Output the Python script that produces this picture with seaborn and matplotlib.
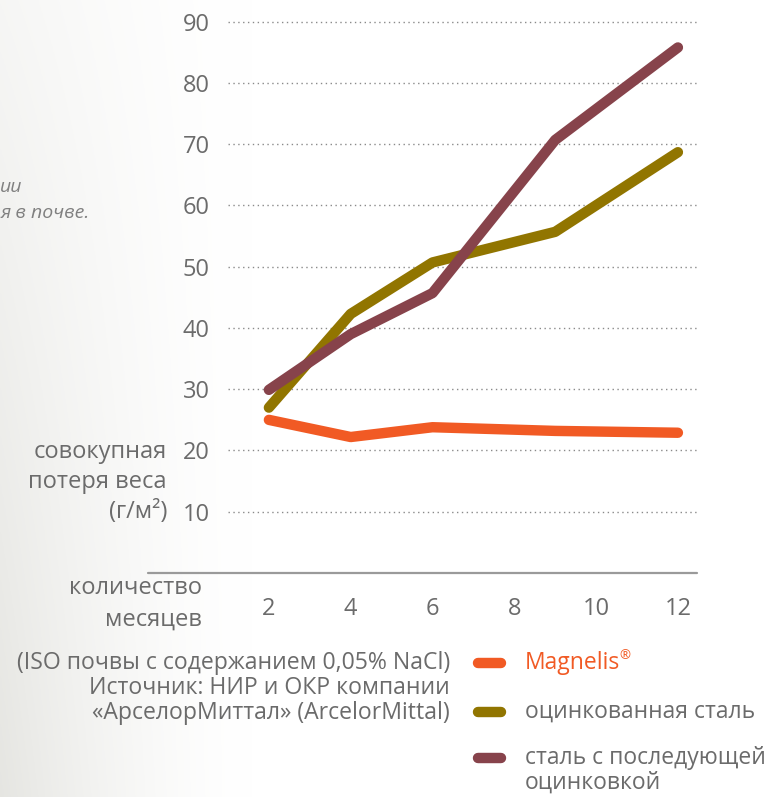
import numpy as np
import pandas as pd
import matplotlib
matplotlib.use("Agg")
import matplotlib.pyplot as plt
from matplotlib.lines import Line2D
import seaborn as sns

# ---- data ----
months = [2, 4, 6, 9, 12]
magnelis = [25.0, 22.2, 23.8, 23.2, 22.9]
galvanized = [27.0, 42.3, 50.7, 55.7, 68.7]
post_galvanized = [29.9, 39.0, 45.7, 70.7, 85.8]
series_names = ["Magnelis", "оцинкованная сталь", "сталь с последующей\nоцинковкой"]
series_colors = ["#F15A24", "#917500", "#87434B"]
x_ticks = [2, 4, 6, 8, 10, 12]
y_ticks = [10, 20, 30, 40, 50, 60, 70, 80, 90]

df = pd.DataFrame({
    "month": months * 3,
    "loss": magnelis + galvanized + post_galvanized,
    "series": [series_names[0]] * 5 + [series_names[1]] * 5 + [series_names[2]] * 5,
})

sns.set_theme(style="white")
plt.rcParams["font.family"] = ["Open Sans", "DejaVu Sans"]

W, H = 784, 797
fig = plt.figure(figsize=(W / 100, H / 100), dpi=100)
fig.patch.set_facecolor("white")

def fx(px):
    return px / W

def fy(py):
    return 1 - py / H

# subtle background on the left
bg = fig.add_axes([0, 0, 1, 1], zorder=-5)
xs = np.linspace(0, 1, 400)
ys = np.linspace(0, 1, 400)
X, Y = np.meshgrid(xs, ys)
fade = np.clip(1 - X / 0.32, 0, 1) ** 1.5 * (0.35 + 0.65 * Y)
img = np.ones((400, 400, 3))
tint = np.array([0.90, 0.90, 0.885])
img = img * (1 - fade[..., None]) + tint * fade[..., None]
bg.imshow(img, extent=[0, 1, 0, 1], aspect="auto", origin="upper")
bg.axis("off")

ax = fig.add_axes([fx(228), fy(573), (700 - 228) / W, (573 - 15) / H])
ax.set_facecolor("none")

sns.lineplot(data=df, x="month", y="loss", hue="series", hue_order=series_names,
             palette=series_colors, linewidth=7.5, ax=ax, legend=False,
             solid_capstyle="round", solid_joinstyle="round")

ax.set_xlim(1.0, 12.54)
ax.set_ylim(0, 91.1)
ax.set_xticks(x_ticks)
ax.set_yticks(y_ticks)
ax.set_xlabel("")
ax.set_ylabel("")
gray = "#6b6b6b"
ax.tick_params(axis="both", length=0, labelsize=17, labelcolor=gray)
ax.tick_params(axis="y", pad=13)
ax.tick_params(axis="x", pad=17)
for s in ax.spines.values():
    s.set_visible(False)
ax.yaxis.grid(True, linestyle=(0, (1, 2.5)), color="#8a8a8a", linewidth=1.0)
ax.xaxis.grid(False)
ax.set_axisbelow(True)
ax.plot([(148 - 228) / 472, (697 - 228) / 472], [0, 0], transform=ax.transAxes,
        color="#9a9a9a", lw=1.6, clip_on=False)

# axis titles
fs = 17
fig.text(fx(167), fy(452), "совокупная", ha="right", va="center", fontsize=fs, color=gray)
fig.text(fx(167), fy(482), "потеря веса", ha="right", va="center", fontsize=fs, color=gray)
fig.text(fx(167), fy(512), "(г/м²)", ha="right", va="center", fontsize=fs, color=gray)
fig.text(fx(202), fy(588), "количество", ha="right", va="center", fontsize=fs, color=gray)
fig.text(fx(202), fy(620), "месяцев", ha="right", va="center", fontsize=fs, color=gray)

# source
sfs = 16.6
fig.text(fx(450), fy(663), "(ISO почвы с содержанием 0,05% NaCl)", ha="right", va="center", fontsize=sfs, color=gray)
fig.text(fx(450), fy(688), "Источник: НИР и ОКР компании", ha="right", va="center", fontsize=sfs, color=gray)
fig.text(fx(450), fy(713), "«АрселорМиттал» (ArcelorMittal)", ha="right", va="center", fontsize=sfs, color=gray)

# cropped italic text at top-left
fig.text(fx(0), fy(187), "ии", ha="left", va="center", fontsize=14, color="#808080", style="italic")
fig.text(fx(0), fy(213), "я в почве.", ha="left", va="center", fontsize=14, color="#808080", style="italic")

# legend
lfs = 16.5
leg_y = [663, 712, 758]
text_colors = [series_colors[0], gray, gray]
renderer = fig.canvas.get_renderer()
for name, col, tc, yy in zip(series_names, series_colors, text_colors, leg_y):
    fig.add_artist(Line2D([fx(478), fx(501)], [fy(yy), fy(yy)], lw=7.5, color=col,
                          solid_capstyle="round"))
    first, *rest = name.split("\n")
    t = fig.text(fx(525), fy(yy), first, ha="left", va="center", fontsize=lfs, color=tc)
    if first == "Magnelis":
        bb = t.get_window_extent(renderer=renderer)
        fig.text(bb.x1 / W - 0.001, fy(yy - 7), "®", ha="left", va="center",
                 fontsize=9.5, color=tc)
    for i, r in enumerate(rest):
        fig.text(fx(525), fy(yy + 25 * (i + 1)), r, ha="left", va="center", fontsize=lfs, color=tc)

fig.savefig("out.png", dpi=100)
